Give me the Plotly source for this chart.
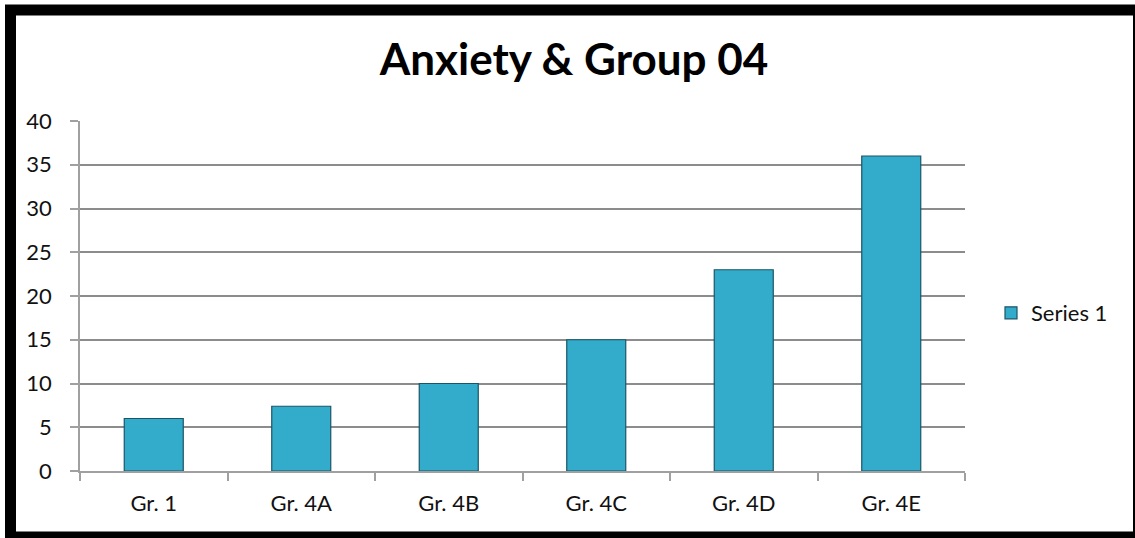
import plotly.graph_objects as go

# chart data
groups = ["Gr. 1", "Gr. 4A", "Gr. 4B", "Gr. 4C", "Gr. 4D", "Gr. 4E"]
anxiety = [6, 7.4, 10, 15, 23, 36]
series_name = "Series 1"
title_text = "Anxiety & Group 04"

W, H = 1135, 538
L, R, T, B = 80, 170, 121, 67
pw, ph = W - L - R, H - T - B


def px_x(p):
    return (p - L) / pw


def px_y(p):
    return (H - B - p) / ph


fig = go.Figure()
fig.add_trace(go.Bar(
    x=groups,
    y=anxiety,
    name=series_name,
    marker=dict(color="#32ACCA", line=dict(color="#1B5566", width=1.2)),
    showlegend=True,
))

fig.update_layout(
    width=W, height=H,
    margin=dict(l=L, r=R, t=T, b=B),
    paper_bgcolor="white",
    plot_bgcolor="white",
    font=dict(family="Lato, Open Sans, sans-serif", size=22, color="#111111"),
    title=dict(
        text=f"<b>{title_text}</b>",
        x=574 / W, xanchor="center",
        y=1 - 60 / H, yanchor="middle",
        font=dict(size=44, color="black"),
    ),
    bargap=0.6,
    showlegend=True,
    legend=dict(
        x=px_x(991), xanchor="left",
        y=px_y(313), yanchor="middle",
        font=dict(size=22),
        bgcolor="rgba(0,0,0,0)",
    ),
    xaxis=dict(
        showline=True, linecolor="#A0A0A0", linewidth=1.5,
        ticks="outside", tickson="boundaries", ticklen=8,
        tickcolor="#A0A0A0", tickwidth=1.5,
        showgrid=False, ticklabelstandoff=12,
    ),
    yaxis=dict(
        range=[0, 40], dtick=5,
        showline=True, linecolor="#A0A0A0", linewidth=1.5,
        ticks="outside", ticklen=8, tickcolor="#A0A0A0", tickwidth=1.5,
        showgrid=True, gridcolor="#8C8C8C", gridwidth=1.5,
        zeroline=False, ticklabelstandoff=14,
    ),
)

# thick black frame around the chart
fig.add_shape(
    type="rect", xref="paper", yref="paper",
    x0=px_x(10.5), x1=px_x(1138.5),
    y0=px_y(537), y1=px_y(10),
    line=dict(color="black", width=11),
    fillcolor="rgba(0,0,0,0)",
    layer="above",
)

# drop the default page margin so the figure sits at the window origin
fig.write_html("out.html", config={"displayModeBar": False},
               post_script="document.body.style.margin='0';")
